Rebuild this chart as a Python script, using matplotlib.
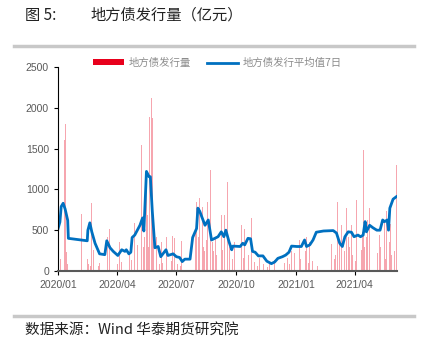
import matplotlib.pyplot as plt
import matplotlib.dates as mdates
from matplotlib.patches import Patch
import pandas as pd

plt.rcParams['font.family'] = ['Noto Sans CJK SC', 'DejaVu Sans']

# 每日地方债发行量（亿元）
bar_dates = [
    '2020-01-02', '2020-01-05', '2020-01-07', '2020-01-09', '2020-01-11', '2020-01-13', '2020-01-14',
    '2020-01-16', '2020-02-06', '2020-02-15', '2020-02-17', '2020-02-19', '2020-02-20', '2020-02-22',
    '2020-02-24', '2020-02-25', '2020-02-27', '2020-03-03', '2020-03-05', '2020-03-10', '2020-03-15',
    '2020-03-17', '2020-03-18', '2020-03-20', '2020-03-24', '2020-03-27', '2020-03-30', '2020-04-02',
    '2020-04-05', '2020-04-08', '2020-04-13', '2020-04-16', '2020-04-20', '2020-04-23', '2020-04-27',
    '2020-04-28', '2020-05-02', '2020-05-06', '2020-05-08', '2020-05-11', '2020-05-13', '2020-05-14',
    '2020-05-16', '2020-05-18', '2020-05-19', '2020-05-21', '2020-05-24', '2020-05-25', '2020-05-26',
    '2020-05-27', '2020-05-31', '2020-06-03', '2020-06-05', '2020-06-08', '2020-06-10', '2020-06-12',
    '2020-06-16', '2020-06-18', '2020-06-21', '2020-06-23', '2020-06-25', '2020-06-28', '2020-07-03',
    '2020-07-07', '2020-07-09', '2020-07-14', '2020-07-16', '2020-07-22', '2020-07-25', '2020-07-28',
    '2020-07-30', '2020-08-01', '2020-08-03', '2020-08-04', '2020-08-06', '2020-08-08', '2020-08-10',
    '2020-08-12', '2020-08-13', '2020-08-16', '2020-08-18', '2020-08-20', '2020-08-22', '2020-08-25',
    '2020-08-27', '2020-08-28', '2020-08-30', '2020-09-01', '2020-09-03', '2020-09-06', '2020-09-08',
    '2020-09-10', '2020-09-13', '2020-09-15', '2020-09-18', '2020-09-21', '2020-09-23', '2020-09-25',
    '2020-09-28', '2020-10-09', '2020-10-12', '2020-10-14', '2020-10-16', '2020-10-20', '2020-10-22',
    '2020-10-24', '2020-10-27', '2020-10-29', '2020-11-03', '2020-11-06', '2020-11-12', '2020-11-18',
    '2020-11-21', '2020-11-29', '2020-12-01', '2020-12-04', '2020-12-09', '2020-12-14', '2020-12-19',
    '2020-12-22', '2020-12-25', '2020-12-30', '2021-01-04', '2021-01-06', '2021-01-08', '2021-01-10',
    '2021-01-13', '2021-01-15', '2021-01-17', '2021-01-20', '2021-01-22', '2021-01-26', '2021-01-30',
    '2021-02-03', '2021-02-24', '2021-03-01', '2021-03-03', '2021-03-05', '2021-03-06', '2021-03-08',
    '2021-03-09', '2021-03-12', '2021-03-14', '2021-03-16', '2021-03-19', '2021-03-22', '2021-03-24',
    '2021-03-27', '2021-03-29', '2021-03-31', '2021-04-02', '2021-04-04', '2021-04-06', '2021-04-09',
    '2021-04-11', '2021-04-13', '2021-04-15', '2021-04-16', '2021-04-19', '2021-04-21', '2021-04-24',
    '2021-04-26', '2021-04-29', '2021-05-04', '2021-05-06', '2021-05-09', '2021-05-11', '2021-05-13',
    '2021-05-17', '2021-05-18', '2021-05-20', '2021-05-22', '2021-05-24', '2021-05-26', '2021-05-28',
    '2021-05-30', '2021-06-01', '2021-06-04',
]
bar_values = [
    120, 150, 300, 1040, 1600, 1800, 230,
    80, 695, 150, 90, 350, 60, 830,
    990, 260, 695, 60, 100, 90, 390,
    420, 150, 510, 120, 810, 200, 80,
    350, 110, 550, 90, 230, 130, 300,
    590, 320, 250, 1550, 300, 420, 990,
    1090, 680, 300, 1890, 2125, 1870, 180,
    560, 420, 680, 90, 350, 100, 400,
    420, 80, 200, 120, 430, 400, 90,
    60, 370, 80, 60, 120, 300, 400,
    500, 850, 770, 420, 900, 1550, 780,
    300, 250, 380, 850, 200, 1240, 350,
    250, 790, 420, 200, 440, 710, 690,
    260, 690, 180, 1095, 300, 200, 150,
    360, 560, 160, 520, 120, 200, 625,
    655, 90, 115, 60, 155, 80, 50,
    115, 135, 200, 60, 155, 100, 155,
    80, 240, 220, 200, 380, 150, 670,
    440, 250, 420, 100, 360, 120, 220,
    60, 330, 150, 200, 775, 850, 150,
    330, 560, 440, 250, 770, 420, 300,
    560, 200, 350, 120, 870, 440, 870,
    260, 480, 1480, 300, 420, 625, 775,
    180, 290, 350, 220, 440, 300, 850,
    600, 150, 730, 380, 350, 580, 200,
    500, 250, 1300,
]

# 7日平均
avg_dates = [
    '2020-01-01', '2020-01-04', '2020-01-06', '2020-01-09', '2020-01-12', '2020-01-16', '2020-01-17',
    '2020-02-15', '2020-02-16', '2020-02-19', '2020-02-22', '2020-02-27', '2020-03-05', '2020-03-13',
    '2020-03-16', '2020-03-21', '2020-03-26', '2020-04-02', '2020-04-08', '2020-04-13', '2020-04-15',
    '2020-04-19', '2020-04-22', '2020-04-24', '2020-04-28', '2020-05-06', '2020-05-10', '2020-05-12',
    '2020-05-14', '2020-05-16', '2020-05-20', '2020-05-22', '2020-05-25', '2020-05-29', '2020-06-03',
    '2020-06-07', '2020-06-15', '2020-06-18', '2020-06-26', '2020-07-01', '2020-07-06', '2020-07-10',
    '2020-07-14', '2020-07-22', '2020-07-26', '2020-08-01', '2020-08-03', '2020-08-06', '2020-08-09',
    '2020-08-14', '2020-08-19', '2020-08-24', '2020-08-29', '2020-09-03', '2020-09-08', '2020-09-12',
    '2020-09-15', '2020-09-20', '2020-09-24', '2020-09-26', '2020-10-07', '2020-10-11', '2020-10-14',
    '2020-10-19', '2020-10-23', '2020-10-26', '2020-10-30', '2020-11-04', '2020-11-11', '2020-11-17',
    '2020-11-24', '2020-11-29', '2020-12-04', '2020-12-11', '2020-12-16', '2020-12-21', '2020-12-25',
    '2021-01-02', '2021-01-09', '2021-01-14', '2021-01-17', '2021-01-22', '2021-01-27', '2021-02-01',
    '2021-02-12', '2021-02-27', '2021-03-04', '2021-03-09', '2021-03-13', '2021-03-17', '2021-03-22',
    '2021-03-27', '2021-03-31', '2021-04-06', '2021-04-10', '2021-04-14', '2021-04-17', '2021-04-19',
    '2021-04-24', '2021-04-29', '2021-05-05', '2021-05-10', '2021-05-14', '2021-05-17', '2021-05-21',
    '2021-05-23', '2021-05-25', '2021-05-30', '2021-06-04',
]
avg_values = [
    515, 600, 790, 830, 760, 620, 400,
    370, 500, 590, 480, 340, 210, 200,
    370, 285, 240, 190, 260, 240, 260,
    210, 230, 410, 440, 560, 650, 490,
    850, 1220, 1155, 1155, 730, 285, 300,
    175, 260, 190, 210, 175, 165, 115,
    145, 145, 410, 520, 770, 730, 665,
    560, 625, 380, 400, 420, 480, 420,
    500, 355, 260, 305, 300, 340, 320,
    400, 395, 240, 230, 185, 185, 120,
    90, 110, 155, 175, 195, 230, 305,
    300, 300, 380, 300, 320, 380, 475,
    490, 495, 465, 340, 300, 420, 480,
    475, 420, 440, 420, 440, 605, 480,
    560, 530, 500, 500, 625, 605, 625,
    500, 770, 880, 910,
]

x_ticks = ['2020-01-01', '2020-04-01', '2020-07-01', '2020-10-01', '2021-01-01', '2021-04-01']

bar_x = pd.to_datetime(bar_dates)
avg_x = pd.to_datetime(avg_dates)

red = '#E8001C'
blue = '#0070C0'

fig = plt.figure(figsize=(4.23, 3.4), dpi=100)
ax = fig.add_axes([0.137, 0.203, 0.8015, 0.600])

ax.bar(bar_x, bar_values, width=1.0, color=red, alpha=0.35, linewidth=0)
ax.plot(avg_x, avg_values, color=blue, linewidth=2.0)

ax.set_ylim(0, 2500)
ax.set_yticks(range(0, 2501, 500))
ax.set_xlim(pd.Timestamp('2020-01-01'), pd.Timestamp('2021-06-05'))
ax.set_xticks(pd.to_datetime(x_ticks))
ax.xaxis.set_major_formatter(mdates.DateFormatter('%Y/%m'))

for s in ['top', 'right']:
    ax.spines[s].set_visible(False)
ax.spines['left'].set_color('black')
ax.spines['left'].set_linewidth(0.8)
ax.spines['bottom'].set_color('#595959')
ax.spines['bottom'].set_linewidth(1.5)
ax.tick_params(axis='both', labelsize=7.5, labelcolor='#595959', color='black',
               length=3, width=0.8)
for lbl in ax.get_xticklabels() + ax.get_yticklabels():
    lbl.set_family('Liberation Sans')

handles = [Patch(facecolor=red, edgecolor='none'),
           plt.Line2D([], [], color=blue, linewidth=2.0)]
leg = ax.legend(handles, ['地方债发行量', '地方债发行平均值7日'],
                loc='lower center', bbox_to_anchor=(0.47, 0.975), ncol=2, frameon=False,
                fontsize=7.5, handlelength=3.0, handleheight=0.5, columnspacing=1.6,
                handletextpad=0.4, borderaxespad=0)
for t in leg.get_texts():
    t.set_color('#8C8C8C')

# 标题与来源
fig.text(0.059, 0.955, '图 5:', fontsize=11, va='center', color='#222222')
fig.text(0.215, 0.955, '地方债发行量（亿元）', fontsize=11, va='center', color='#222222')
fig.add_artist(plt.Line2D([0.033, 0.979], [0.865, 0.865], color='#C8C8C8', linewidth=2.5))
fig.add_artist(plt.Line2D([0.033, 0.979], [0.071, 0.071], color='#C8C8C8', linewidth=2.5))
fig.text(0.059, 0.029, '数据来源：Wind 华泰期货研究院', fontsize=10.5, va='center', color='#222222')

fig.savefig('out.png', dpi=100)
